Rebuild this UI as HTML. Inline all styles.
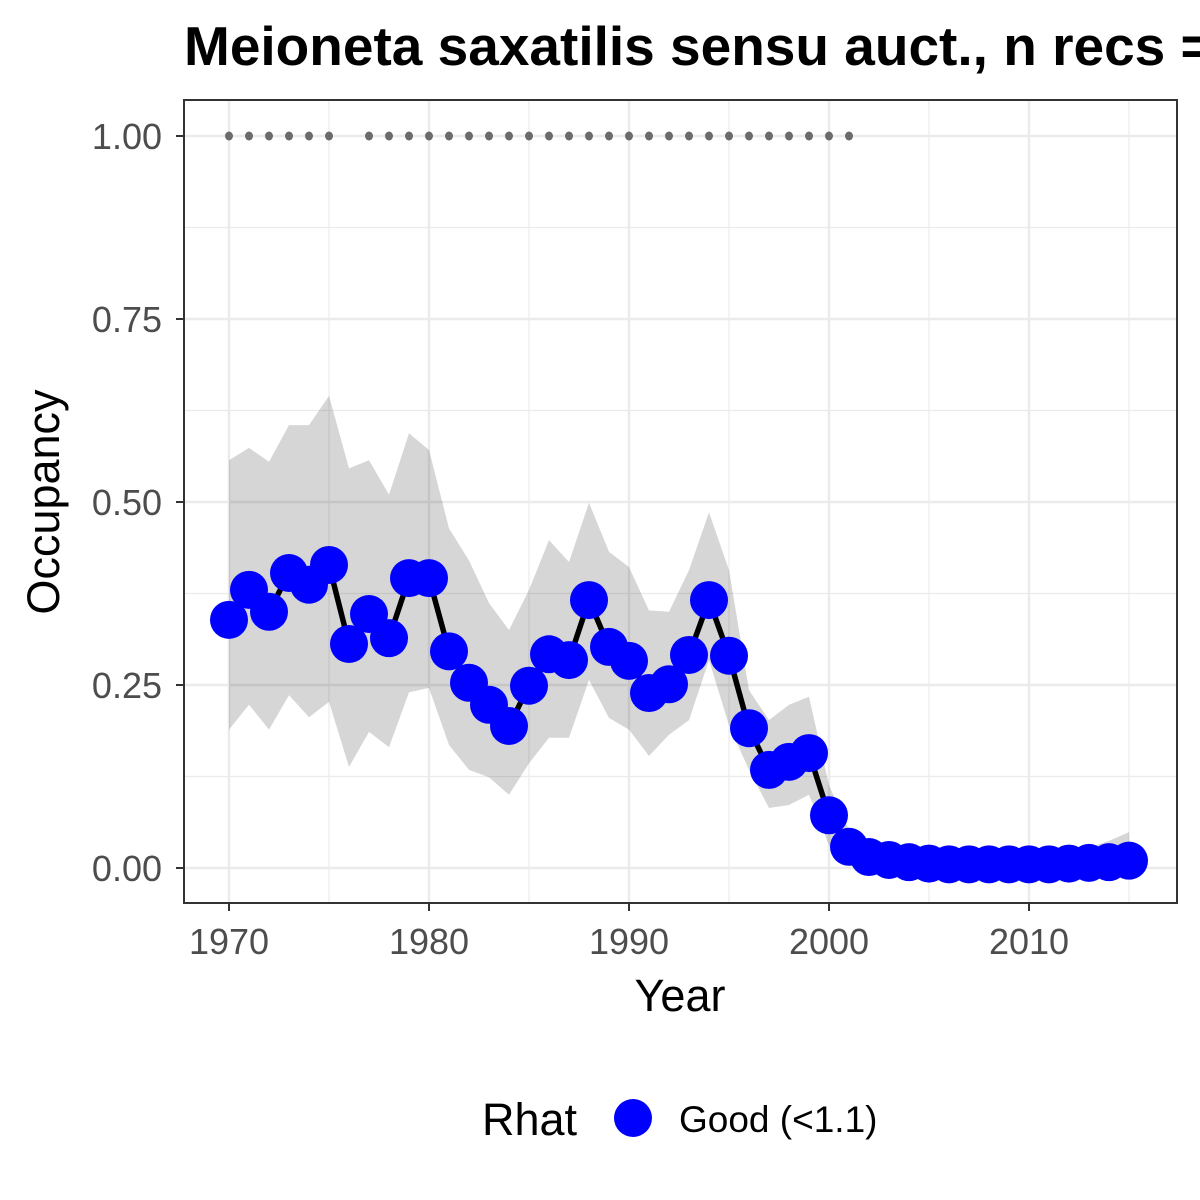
<!DOCTYPE html>
<html><head><meta charset="utf-8"><style>
body{margin:0;background:#fff}
svg{display:block;font-family:"Liberation Sans",Arial,sans-serif}
</style></head><body>
<svg id="chart" width="1200" height="1200" viewBox="0 0 1200 1200" xmlns="http://www.w3.org/2000/svg">
<rect width="1200" height="1200" fill="#fff"/>
<text x="184" y="65" font-size="55" font-weight="bold" fill="#000">Meioneta saxatilis sensu auct., n recs = 70</text>
<g id="grid"></g>
<g id="ribbon"></g>
<g id="line"></g>
<g id="points"></g>
<g id="dots"></g>
<rect x="184" y="100" width="993" height="803" fill="none" stroke="#333" stroke-width="2"/>
<g id="axes"></g>
<text x="680" y="1011" font-size="45" text-anchor="middle" fill="#000">Year</text>
<text transform="translate(59,502) rotate(-90)" font-size="45" text-anchor="middle" fill="#000">Occupancy</text>
<g>
<text x="482" y="1135" font-size="45" fill="#000">Rhat</text>
<circle cx="633" cy="1118" r="19" fill="#0000ff"/>
<text x="679" y="1132" font-size="37" fill="#000">Good (&lt;1.1)</text>
</g>
</svg>
<script>
const years = [];
for (let y = 1970; y <= 2015; y++) years.push(y);
const occupancy = [0.339,0.38,0.35,0.403,0.387,0.414,0.306,0.347,0.314,0.396,0.396,0.296,0.253,0.223,0.194,0.249,0.292,0.284,0.366,0.302,0.283,0.239,0.251,0.291,0.366,0.29,0.191,0.134,0.145,0.157,0.072,0.029,0.015,0.011,0.008,0.006,0.005,0.005,0.005,0.005,0.005,0.005,0.006,0.007,0.008,0.01];
const upper = [0.557,0.574,0.555,0.605,0.605,0.645,0.546,0.557,0.51,0.594,0.571,0.464,0.42,0.362,0.325,0.38,0.448,0.418,0.499,0.432,0.411,0.352,0.35,0.407,0.486,0.407,0.243,0.202,0.223,0.234,0.113,0.052,0.025,0.018,0.016,0.015,0.015,0.015,0.015,0.015,0.016,0.018,0.022,0.028,0.037,0.049];
const lower = [0.189,0.223,0.189,0.236,0.206,0.227,0.138,0.186,0.165,0.24,0.246,0.168,0.134,0.124,0.1,0.143,0.178,0.178,0.257,0.205,0.189,0.153,0.182,0.202,0.284,0.195,0.134,0.082,0.086,0.1,0.031,0.003,0,0,0,0,0,0,0,0,0,0,0,0,0,0];
const recordYears = [1970,1971,1972,1973,1974,1975,1977,1978,1979,1980,1981,1982,1983,1984,1985,1986,1987,1988,1989,1990,1991,1992,1993,1994,1995,1996,1997,1998,1999,2000,2001];
const xTicks = [1970,1980,1990,2000,2010];
const yTicks = [0,0.25,0.5,0.75,1];
const yTickLabels = ["0.00","0.25","0.50","0.75","1.00"];

const X = v => 229 + (v - 1970) * 20;
const Y = v => 868 - v * 732;
const NS = "http://www.w3.org/2000/svg";
function mk(tag, attrs, parent) {
  const e = document.createElementNS(NS, tag);
  for (const k in attrs) e.setAttribute(k, attrs[k]);
  parent.appendChild(e); return e;
}
const grid = document.getElementById('grid');
[1975,1985,1995,2005,2015].forEach(v => {
  const l = mk('line', {x1:X(v),x2:X(v),y1:100,y2:903,stroke:'#ebebeb','stroke-width':1.2}, grid);
  
  
});
[0.125,0.375,0.625,0.875].forEach(v => {
  const l = mk('line', {x1:184,x2:1177,y1:Y(v),y2:Y(v),stroke:'#ebebeb','stroke-width':1.2}, grid);
  
  
});
xTicks.forEach(v => {
  const l = mk('line', {x1:X(v),x2:X(v),y1:100,y2:903,stroke:'#ebebeb','stroke-width':2.5}, grid);
  
  
});
yTicks.forEach(v => {
  const l = mk('line', {x1:184,x2:1177,y1:Y(v),y2:Y(v),stroke:'#ebebeb','stroke-width':2.5}, grid);
  
  
});
let pts = years.map((y,i) => X(y)+','+Y(upper[i]));
for (let i = years.length-1; i >= 0; i--) pts.push(X(years[i])+','+Y(lower[i]));
const rib = mk('polygon', {points:pts.join(' '), fill:'rgba(0,0,0,0.16)'}, document.getElementById('ribbon'));


const ln = mk('polyline', {points:years.map((y,i)=>X(y)+','+Y(occupancy[i])).join(' '), fill:'none', stroke:'#000','stroke-width':5.5}, document.getElementById('line'));


const pg = document.getElementById('points');
years.forEach((y,i) => {
  const c = mk('circle', {cx:X(y), cy:Y(occupancy[i]), r:19, fill:'#0000ff'}, pg);
  
  
});
const dg = document.getElementById('dots');
recordYears.forEach(y => {
  const c = mk('ellipse', {cx:X(y), cy:Y(1), rx:4, ry:4.5, fill:'#6b6b6b'}, dg);
  
  
});
const ax = document.getElementById('axes');
xTicks.forEach(v => {
  const t = mk('line', {x1:X(v),x2:X(v),y1:903,y2:911,stroke:'#333','stroke-width':2}, ax);
  
  
  const tx = mk('text', {x:X(v), y:954, 'font-size':36, 'text-anchor':'middle', fill:'#4d4d4d'}, ax);
  tx.textContent = v;
  
  
});
yTicks.forEach((v,i) => {
  const t = mk('line', {x1:176,x2:184,y1:Y(v),y2:Y(v),stroke:'#333','stroke-width':2}, ax);
  
  
  const tx = mk('text', {x:162, y:Y(v)+13, 'font-size':36, 'text-anchor':'end', fill:'#4d4d4d'}, ax);
  tx.textContent = yTickLabels[i];
  
  
});
</script>
</body></html>
